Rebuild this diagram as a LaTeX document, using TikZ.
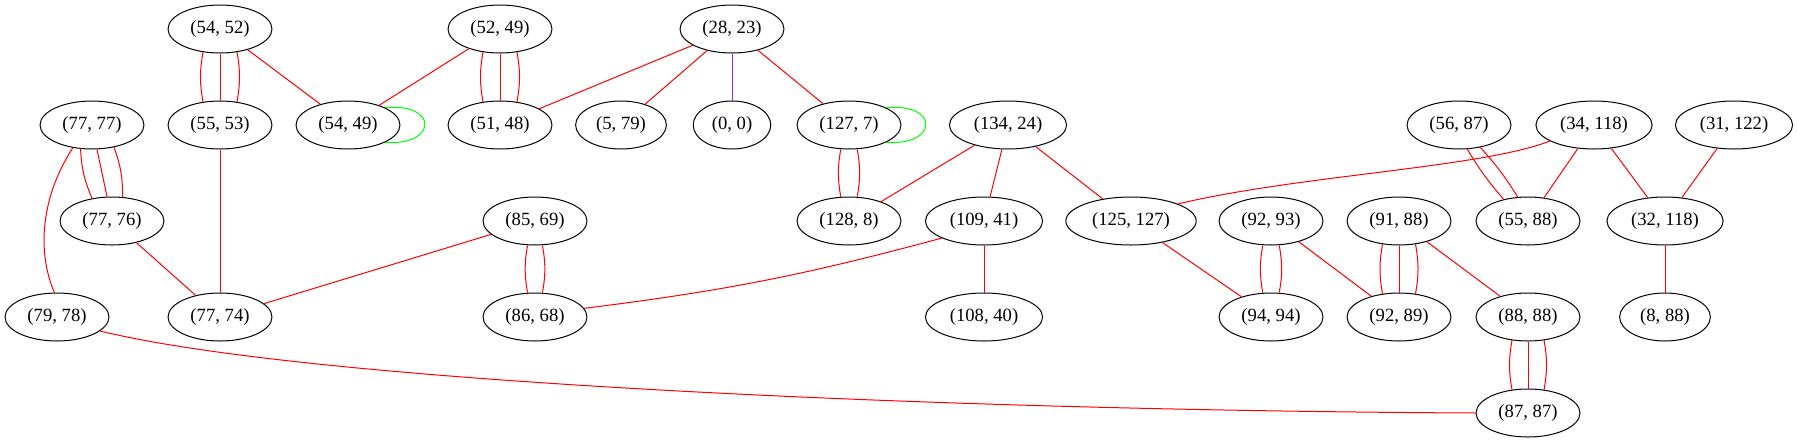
\documentclass[tikz,border=0pt]{standalone}
\usepackage{fontspec}
\setmainfont{Liberation Serif}
\usetikzlibrary{shapes.geometric}
\tikzset{>=stealth}
\definecolor{gvred}{RGB}{255,0,0}
\definecolor{gvgreen}{RGB}{0,255,0}
\definecolor{gvpurple}{RGB}{160,32,240}
\tikzset{
  vtx/.style={draw, ellipse, line width=0.75pt, inner xsep=5.4pt, inner ysep=1pt, minimum height=36pt, font=\fontsize{14}{16}\selectfont},
  rd/.style={gvred, line width=0.75pt},
  gr/.style={gvgreen, line width=0.75pt},
  pu/.style={gvpurple, line width=0.75pt}
}

\begin{document}
\begin{tikzpicture}[x=0.75pt,y=0.75pt]
    \useasboundingbox (0,0) rectangle (1797,-443);
    \node[vtx] (n5452) at (220,-29) {(54, 52)};
    \node[vtx] (n5249) at (500,-29) {(52, 49)};
    \node[vtx] (n2823) at (732,-29) {(28, 23)};
    \node[vtx] (n7777) at (92,-125) {(77, 77)};
    \node[vtx] (n5553) at (220,-125) {(55, 53)};
    \node[vtx] (n5449) at (348,-125) {(54, 49)};
    \node[vtx] (n5148) at (500,-125) {(51, 48)};
    \node[vtx] (n579) at (621,-125) {(5, 79)};
    \node[vtx] (n00) at (732,-125) {(0, 0)};
    \node[vtx] (n1277) at (849,-125) {(127, 7)};
    \node[vtx] (n13424) at (1008,-125) {(134, 24)};
    \node[vtx] (n5687) at (1459,-125) {(56, 87)};
    \node[vtx] (n34118) at (1594,-125) {(34, 118)};
    \node[vtx] (n31122) at (1734,-125) {(31, 122)};
    \node[vtx] (n7776) at (112,-221) {(77, 76)};
    \node[vtx] (n8569) at (535,-221) {(85, 69)};
    \node[vtx] (n1288) at (849,-221) {(128, 8)};
    \node[vtx] (n10941) at (984,-221) {(109, 41)};
    \node[vtx] (n125127) at (1131,-221) {(125, 127)};
    \node[vtx] (n9293) at (1271,-221) {(92, 93)};
    \node[vtx] (n9188) at (1399,-221) {(91, 88)};
    \node[vtx] (n5588) at (1528,-221) {(55, 88)};
    \node[vtx] (n32118) at (1665,-221) {(32, 118)};
    \node[vtx] (n7978) at (57,-317) {(79, 78)};
    \node[vtx] (n7774) at (220,-317) {(77, 74)};
    \node[vtx] (n8668) at (535,-317) {(86, 68)};
    \node[vtx] (n10840) at (984,-317) {(108, 40)};
    \node[vtx] (n9494) at (1271,-317) {(94, 94)};
    \node[vtx] (n9289) at (1399,-317) {(92, 89)};
    \node[vtx] (n8888) at (1528,-317) {(88, 88)};
    \node[vtx] (n888) at (1665,-317) {(8, 88)};
    \node[vtx] (n8787) at (1528,-413) {(87, 87)};

    \draw[rd] ([shift={(-17,1.3)}]n5452.south) to[bend right=10] ([shift={(-17,-1.3)}]n5553.north);
    \draw[rd] (n5452.south) -- (n5553.north);
    \draw[rd] ([shift={(17,1.3)}]n5452.south) to[bend left=10] ([shift={(17,-1.3)}]n5553.north);
    \draw[rd] (n5452) -- (n5449);
    \draw[rd] (n5249) -- (n5449);
    \draw[rd] ([shift={(-17,1.3)}]n5249.south) to[bend right=10] ([shift={(-17,-1.3)}]n5148.north);
    \draw[rd] (n5249.south) -- (n5148.north);
    \draw[rd] ([shift={(17,1.3)}]n5249.south) to[bend left=10] ([shift={(17,-1.3)}]n5148.north);
    \draw[gr] (n5449.25) .. controls +(54,5) and +(52,-4) .. (n5449.335);
    \draw[rd] (n2823) -- (n5148);
    \draw[rd] (n2823) -- (n579);
    \draw[pu] (n2823) -- (n00);
    \draw[rd] (n2823) -- (n1277);
    \draw[gr] (n1277.25) .. controls +(54,5) and +(52,-4) .. (n1277.335);
    \draw[rd] ([xshift=-6.2pt]n1277.south) to[bend right=10] ([xshift=-6.2pt]n1288.north);
    \draw[rd] ([xshift=6.2pt]n1277.south) to[bend left=10] ([xshift=6.2pt]n1288.north);
    \draw[rd] (n13424) -- (n1288);
    \draw[rd] (n13424) -- (n10941);
    \draw[rd] (n13424) -- (n125127);
    \draw[rd] ([shift={(-11.5,1.5)}]n7777.south) to[bend right=10] ([shift={(-20,-1.8)}]n7776.north);
    \draw[rd] ([xshift=3.75pt]n7777.south) -- ([xshift=-3.75pt]n7776.north);
    \draw[rd] ([shift={(22,2.3)}]n7777.south) to[bend left=10] ([shift={(10.6,-0.5)}]n7776.north);
    \draw[rd] (n7777.230) .. controls (42,-195) and (36,-250) .. (n7978.96);
    \draw[rd] (n5553) -- (n7774);
    \draw[rd] (n7776) -- (n7774);
    \draw[rd] (n8569) -- (n7774);
    \draw[rd] ([xshift=-5.6pt]n8569.south) to[bend right=10] ([xshift=-5.6pt]n8668.north);
    \draw[rd] ([xshift=5.6pt]n8569.south) to[bend left=10] ([xshift=5.6pt]n8668.north);
    \draw[rd] (n10941.202) to[bend left=4] (n8668.10);
    \draw[rd] (n10941) -- (n10840);
    \draw[rd] (n125127) -- (n9494);
    \draw[rd] (n34118.200) .. controls (1480,-168) and (1300,-175) .. (n125127.20);
    \draw[rd] ([xshift=-6.2pt]n9293.south) to[bend right=10] ([xshift=-6.2pt]n9494.north);
    \draw[rd] ([xshift=6.2pt]n9293.south) to[bend left=10] ([xshift=6.2pt]n9494.north);
    \draw[rd] (n9293) -- (n9289);
    \draw[rd] ([shift={(-16.5,1.3)}]n9188.south) to[bend right=10] ([shift={(-16.5,-1.3)}]n9289.north);
    \draw[rd] (n9188.south) -- (n9289.north);
    \draw[rd] ([shift={(16.5,1.3)}]n9188.south) to[bend left=10] ([shift={(16.5,-1.3)}]n9289.north);
    \draw[rd] (n9188) -- (n8888);
    \draw[rd] ([shift={(8,-23.7)}]n5687.center) to[bend right=5] ([shift={(-24,21.3)}]n5588.center);
    \draw[rd] ([shift={(21,-22)}]n5687.center) to[bend left=5] ([shift={(-10,23.5)}]n5588.center);
    \draw[rd] (n34118) -- (n5588);
    \draw[rd] (n34118) -- (n32118);
    \draw[rd] (n31122) -- (n32118);
    \draw[rd] (n32118) -- (n888);
    \draw[rd] ([shift={(-16,1.3)}]n8888.south) to[bend right=10] ([shift={(-16,-1.3)}]n8787.north);
    \draw[rd] (n8888.south) -- (n8787.north);
    \draw[rd] ([shift={(16,1.3)}]n8888.south) to[bend left=10] ([shift={(16,-1.3)}]n8787.north);
    \draw[rd] (n7978.342) .. controls (300,-380) and (900,-410) .. (n8787.west);
\end{tikzpicture}
\end{document}
